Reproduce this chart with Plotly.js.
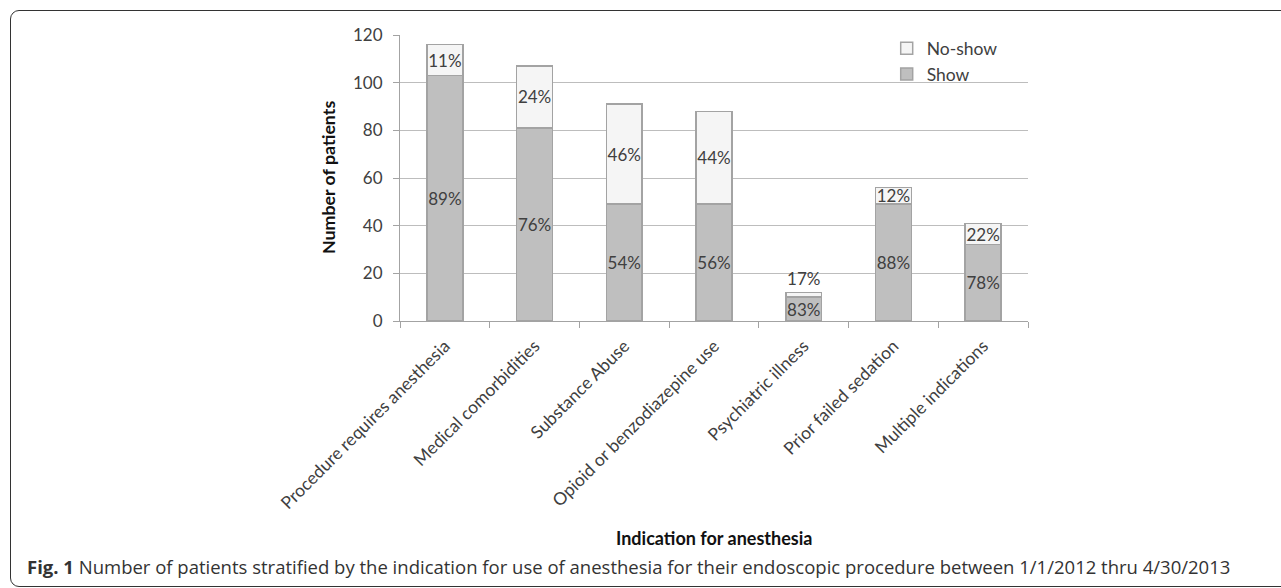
<!DOCTYPE html>
<html>
<head>
<meta charset="utf-8">
<script src="https://cdn.plot.ly/plotly-3.0.1.min.js"></script>
<style>
  html, body { margin: 0; padding: 0; width: 1281px; height: 588px; overflow: hidden; background: #fff; }
  #wrap { position: relative; width: 1281px; height: 588px; }
  #chart { position: absolute; left: 0; top: 0; width: 1281px; height: 588px; }
  #frame { position: absolute; left: 10px; top: 10px; width: 1320px; height: 577px;
           border: 1.5px solid #333; border-radius: 9px; pointer-events: none; box-sizing: border-box; }
</style>
</head>
<body>
<div id="wrap">
  <div id="chart"></div>
  <div id="frame"></div>
</div>
<script>
const categories = [
  "Procedure requires anesthesia",
  "Medical comorbidities",
  "Substance Abuse",
  "Opioid or benzodiazepine use",
  "Psychiatric illness",
  "Prior failed sedation",
  "Multiple indications"
];
const showCounts   = [103, 81, 49, 49, 10, 49, 32];
const noShowCounts = [13, 26, 42, 39, 2, 7, 9];
const showPct   = ["89%", "76%", "54%", "56%", "83%", "88%", "78%"];
const noShowPct = ["11%", "24%", "46%", "44%", "17%", "12%", "22%"];
const yTicks = [0, 20, 40, 60, 80, 100, 120];

const chartFont = "Lato, 'Liberation Sans', sans-serif";
const textCol = "#404040";
const edgeCol = "#a3a3a3";

const noShowPos = noShowCounts.map(v => v < 5 ? "outside" : "inside");

const traces = [
  {
    type: "bar", name: "Show", x: categories, y: showCounts,
    text: showPct, textposition: "inside", insidetextanchor: "middle",
    textangle: 0, constraintext: "none",
    textfont: { family: chartFont, size: 17, color: textCol },
    marker: { color: "#bfbfbf", line: { color: edgeCol, width: 1.5 } },
    hoverinfo: "x+y"
  },
  {
    type: "bar", name: "No-show", x: categories, y: noShowCounts,
    text: noShowPct, textposition: noShowPos, insidetextanchor: "middle",
    textangle: 0, constraintext: "none", cliponaxis: false,
    textfont: { family: chartFont, size: 17, color: textCol },
    marker: { color: "#f5f5f5", line: { color: edgeCol, width: 1.5 } },
    hoverinfo: "x+y"
  }
];

const layout = {
  width: 1281, height: 588,
  margin: { l: 400, r: 253, t: 35, b: 267, pad: 0 },
  paper_bgcolor: "rgba(0,0,0,0)", plot_bgcolor: "rgba(0,0,0,0)",
  barmode: "stack", bargap: 0.6,
  font: { family: chartFont, size: 16, color: textCol },
  showlegend: true,
  legend: {
    x: 0.775, y: 1.016, xanchor: "left", yanchor: "top",
    traceorder: "reversed", bgcolor: "rgba(0,0,0,0)",
    font: { family: chartFont, size: 17.5, color: textCol },
    itemwidth: 30
  },
  xaxis: {
    type: "category", tickangle: -45, ticks: "outside", tickson: "boundaries",
    ticklen: 6, tickcolor: edgeCol, ticklabelstandoff: 7,
    showline: true, linecolor: edgeCol, linewidth: 1,
    showgrid: false, automargin: false,
    tickfont: { family: chartFont, size: 17.5, color: textCol }
  },
  yaxis: {
    range: [0, 120], tickvals: yTicks, ticktext: yTicks.map(String),
    ticks: "outside", ticklen: 6, tickcolor: edgeCol, ticklabelstandoff: 7,
    showline: true, linecolor: edgeCol, linewidth: 1,
    showgrid: true, gridcolor: "#bdbdbd", gridwidth: 1, zeroline: false,
    automargin: false,
    tickfont: { family: chartFont, size: 17, color: textCol }
  },
  annotations: [
    {
      xref: "paper", yref: "paper", x: -0.1146, y: 0.5,
      xanchor: "center", yanchor: "middle", textangle: -90, showarrow: false,
      text: "<b>Number of patients</b>",
      font: { family: chartFont, size: 17.8, color: "#111" }
    },
    {
      xref: "paper", yref: "paper", x: 0.5, y: -0.7587,
      xanchor: "center", yanchor: "middle", showarrow: false,
      text: "<b>Indication for anesthesia</b>",
      font: { family: chartFont, size: 18, color: "#111" }
    },
    {
      xref: "paper", yref: "paper", x: -0.597, y: -0.86,
      xanchor: "left", yanchor: "middle", showarrow: false, align: "left",
      text: "<b>Fig. 1</b> Number of patients stratified by the indication for use of anesthesia for their endoscopic procedure between 1/1/2012 thru 4/30/2013",
      font: { family: "'Open Sans', sans-serif", size: 18.5, color: "#333" }
    }
  ]
};

Plotly.newPlot("chart", traces, layout, { staticPlot: true, displayModeBar: false });
</script>
</body>
</html>
